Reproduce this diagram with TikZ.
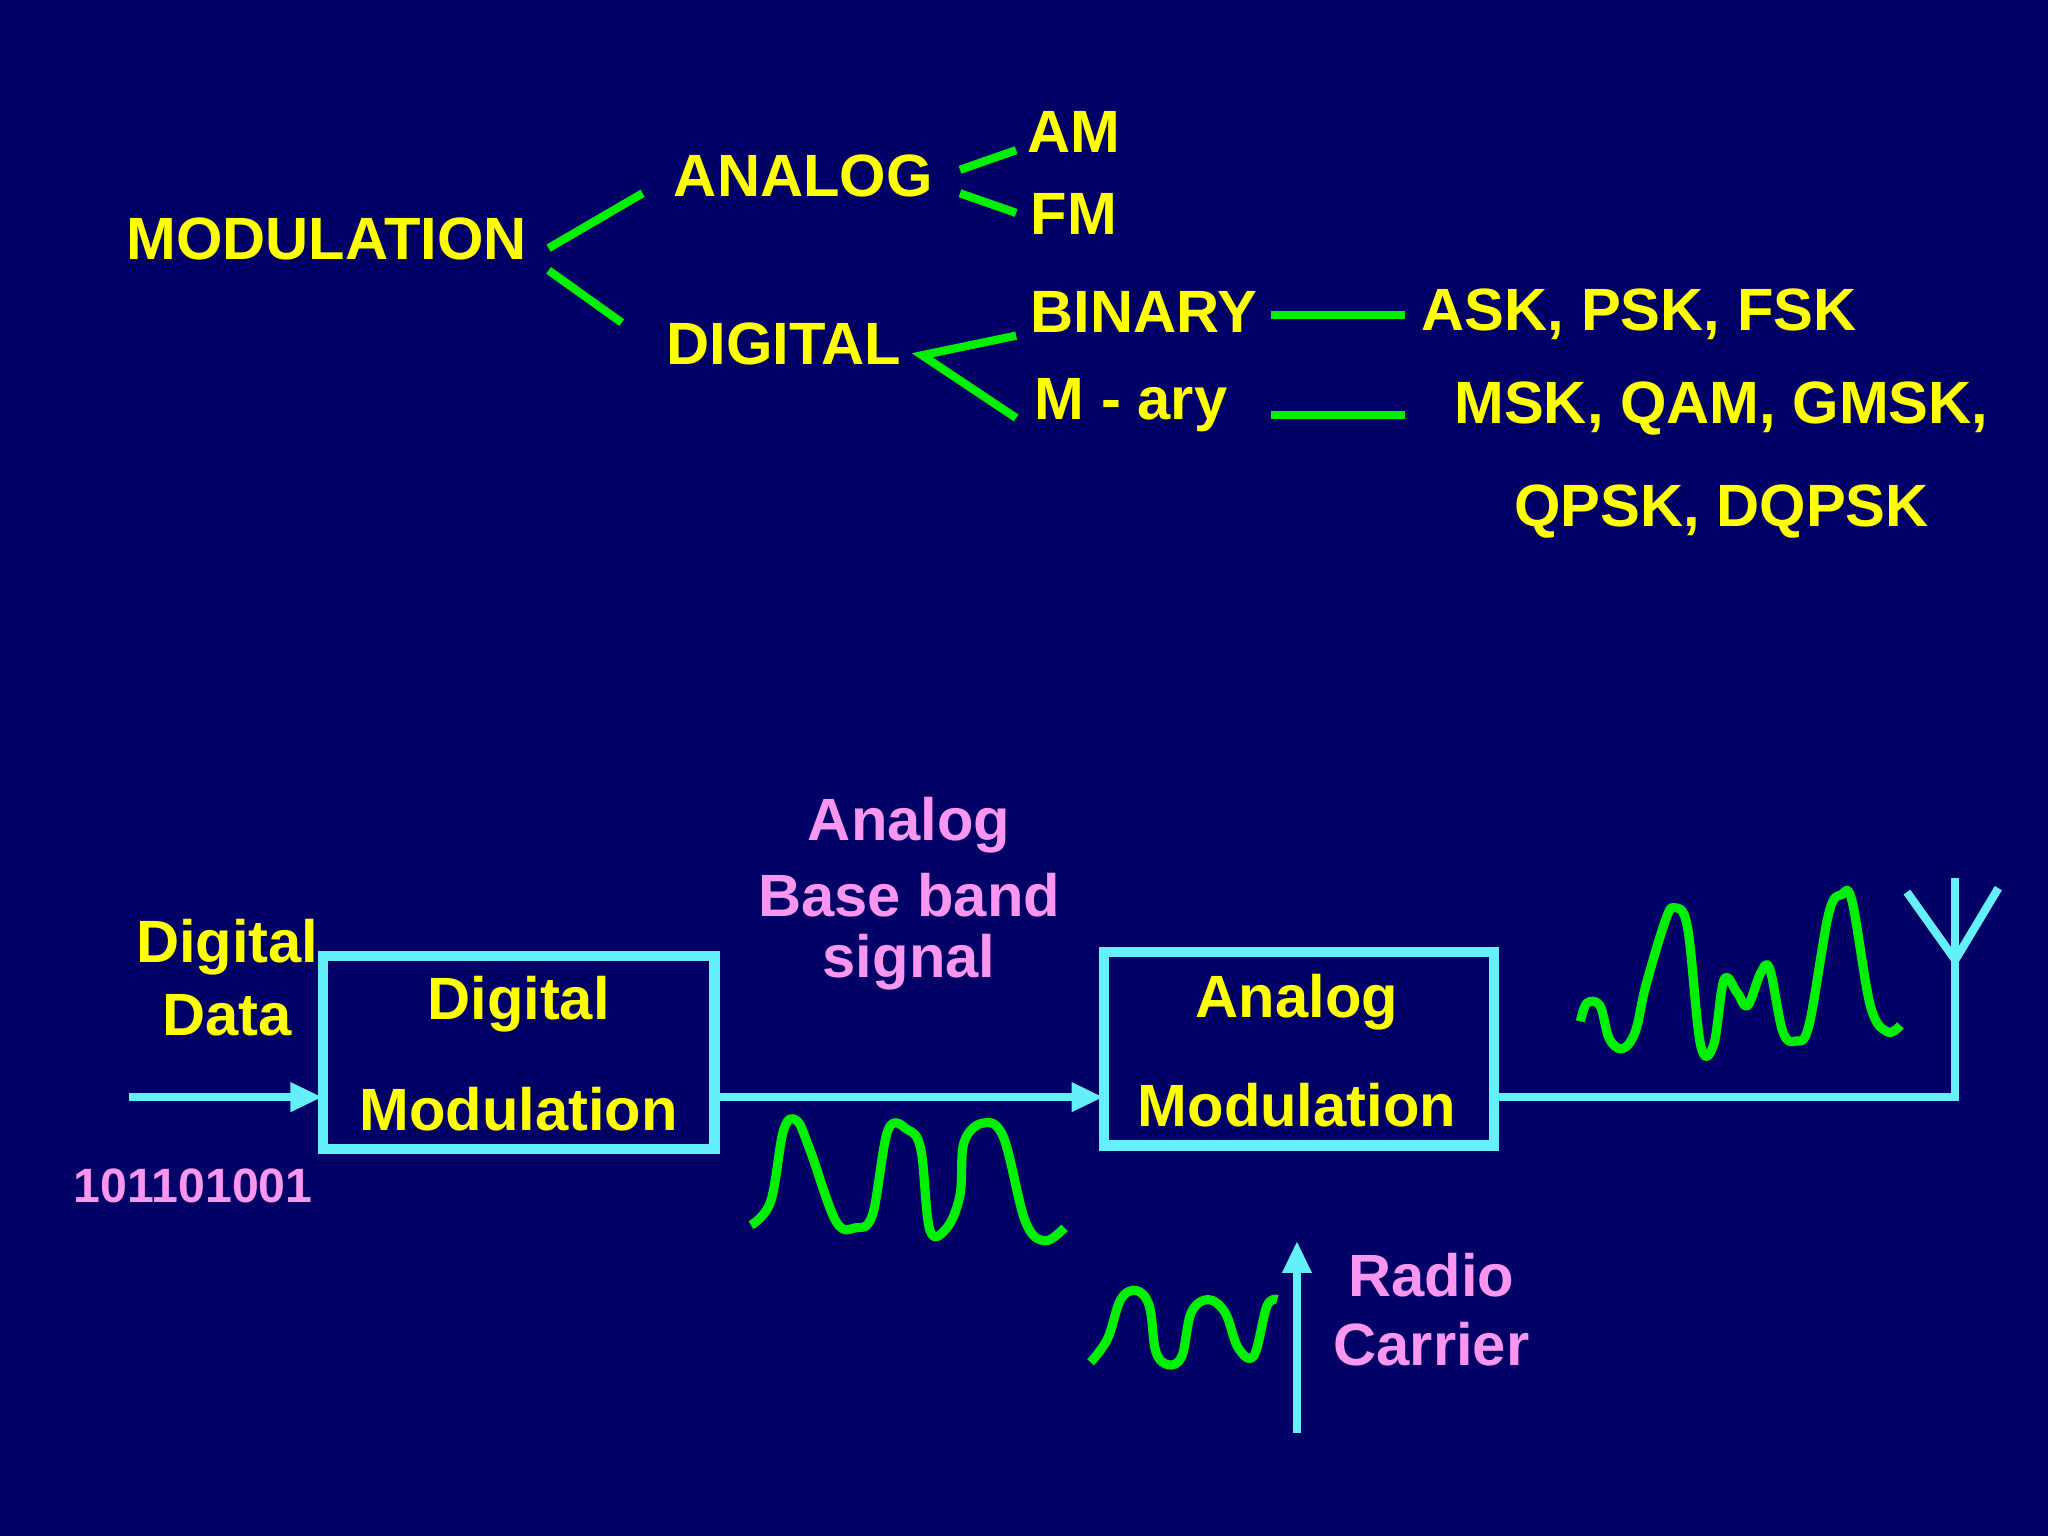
\documentclass[tikz,border=0pt]{standalone}
\usepackage{fontspec}
\setmainfont{Liberation Sans}
\usetikzlibrary{arrows.meta}
\definecolor{bg}{RGB}{0,0,102}
\definecolor{ylw}{RGB}{255,255,0}
\definecolor{grn}{RGB}{0,240,0}
\definecolor{cyn}{RGB}{100,240,250}
\definecolor{pnk}{RGB}{250,150,240}
\tikzset{
 yt/.style={text=ylw,font=\bfseries\fontsize{13}{16}\selectfont,inner sep=0pt},
 pt/.style={text=pnk,font=\bfseries\fontsize{13}{16}\selectfont,inner sep=0pt},
 gl/.style={draw=grn,line width=1.8pt},
 cl/.style={draw=cyn,line width=1.8pt},
 tip/.style={-{Triangle[length=7pt,width=6pt]}},
 wave/.style={draw=grn,line width=2pt,line join=round,smooth,tension=0.6}
}
\begin{document}
\begin{tikzpicture}[x=0.01cm,y=-0.01cm]
\fill[bg] (0,0) rectangle (1568,1176);
\useasboundingbox (0,0) rectangle (1568,1176);
% tree
\node[yt] (mod) at (250,183) {MODULATION};
\node[yt] (ana) at (615,135) {ANALOG};
\node[yt] (dig) at (600,263) {DIGITAL};
\node[yt] (am) at (822,101) {AM};
\node[yt] (fm) at (822,164) {FM};
\node[yt] (bin) at (876,239) {BINARY};
\node[yt] (mary) at (866,310) {M - ary};
\node[yt] (ask) at (1255,241) {ASK, PSK, FSK};
\node[yt] (msk) at (1318,313) {MSK, QAM, GMSK,};
\node[yt] (qpsk) at (1318,392) {QPSK, DQPSK};
\coordinate (a1) at (420,190); \coordinate (a2) at (492,148);
\coordinate (b1) at (420,207); \coordinate (b2) at (476,247);
\draw[gl] (a1)--(a2); \draw[gl] (b1)--(b2);
\coordinate (c1) at (735,130); \coordinate (c2) at (778,115);
\coordinate (d1) at (735,148); \coordinate (d2) at (778,163);
\draw[gl] (c1)--(c2); \draw[gl] (d1)--(d2);
\coordinate (e0) at (706,272); \coordinate (e1) at (778,257); \coordinate (e2) at (778,320);
\draw[gl] (e1)--(e0)--(e2);
\coordinate (f1) at (973,241); \coordinate (f2) at (1076,241);
\coordinate (g1) at (973,318); \coordinate (g2) at (1076,318);
\draw[gl] (f1)--(f2); \draw[gl] (g1)--(g2);
% blocks
\draw[cl,line width=2.2pt] (247,732) rectangle (547,880);
\coordinate (dmw) at (247,840); \coordinate (dme) at (547,840);
\node[yt] (dm1) at (397,769) {Digital};
\node[yt] (dm2) at (397,849) {Modulation};
\draw[cl,line width=2.2pt] (845,729) rectangle (1144,877);
\coordinate (amw) at (845,840); \coordinate (ame) at (1144,840);
\node[yt] (am1) at (993,767) {Analog};
\node[yt] (am2) at (993,846) {Modulation};
\node[yt] (dd1) at (174,725) {Digital};
\node[yt] (dd2) at (174,777) {Data};
\node[pt,font=\bfseries\fontsize{10.5}{12}\selectfont] (bits) at (148,908) {101101001};
\node[pt] (bb1) at (696,632) {Analog};
\node[pt] (bb2) at (696,685) {Base band};
\node[pt] (bb3) at (696,737) {signal};
\node[pt] (rc1) at (1096,976) {Radio};
\node[pt] (rc2) at (1096,1029) {Carrier};
\coordinate (in) at (99,840);
\draw[cl,tip] (in)--(dmw);
\draw[cl,tip] (dme)--(amw);
\coordinate (ant) at (1497,840); \coordinate (antt) at (1497,672);
\draw[cl] (ame)--(ant)--(antt);
\coordinate (v1) at (1460,683); \coordinate (v0) at (1497,735); \coordinate (v2) at (1530,680);
\draw[cl] (v1)--(v0)--(v2);
\coordinate (r0) at (993,1097); \coordinate (r1) at (993,950);
\draw[cl,tip] (r0)--(r1);
% waves
\draw[wave] plot coordinates {(575,938)(590,920)(600,865)(610,858)(620,880)(640,935)(655,940)(668,930)(680,865)(695,865)(705,880)(712,942)(725,940)(735,915)(738,875)(752,860)(768,870)(785,935)(800,950)(815,940)};
\draw[wave] plot coordinates {(835,1043)(848,1025)(858,995)(870,988)(880,1000)(885,1035)(895,1045)(905,1038)(912,1005)(925,995)(938,1005)(948,1032)(960,1038)(970,1000)(978,995)};
\draw[wave] plot coordinates {(1210,782)(1215,768)(1225,770)(1232,795)(1242,803)(1252,790)(1260,755)(1275,705)(1282,695)(1292,710)(1302,800)(1312,800)(1320,750)(1330,760)(1338,770)(1348,745)(1355,742)(1365,790)(1375,797)(1385,785)(1400,700)(1410,685)(1418,690)(1432,770)(1445,790)(1455,785)};
\end{tikzpicture}
\end{document}
